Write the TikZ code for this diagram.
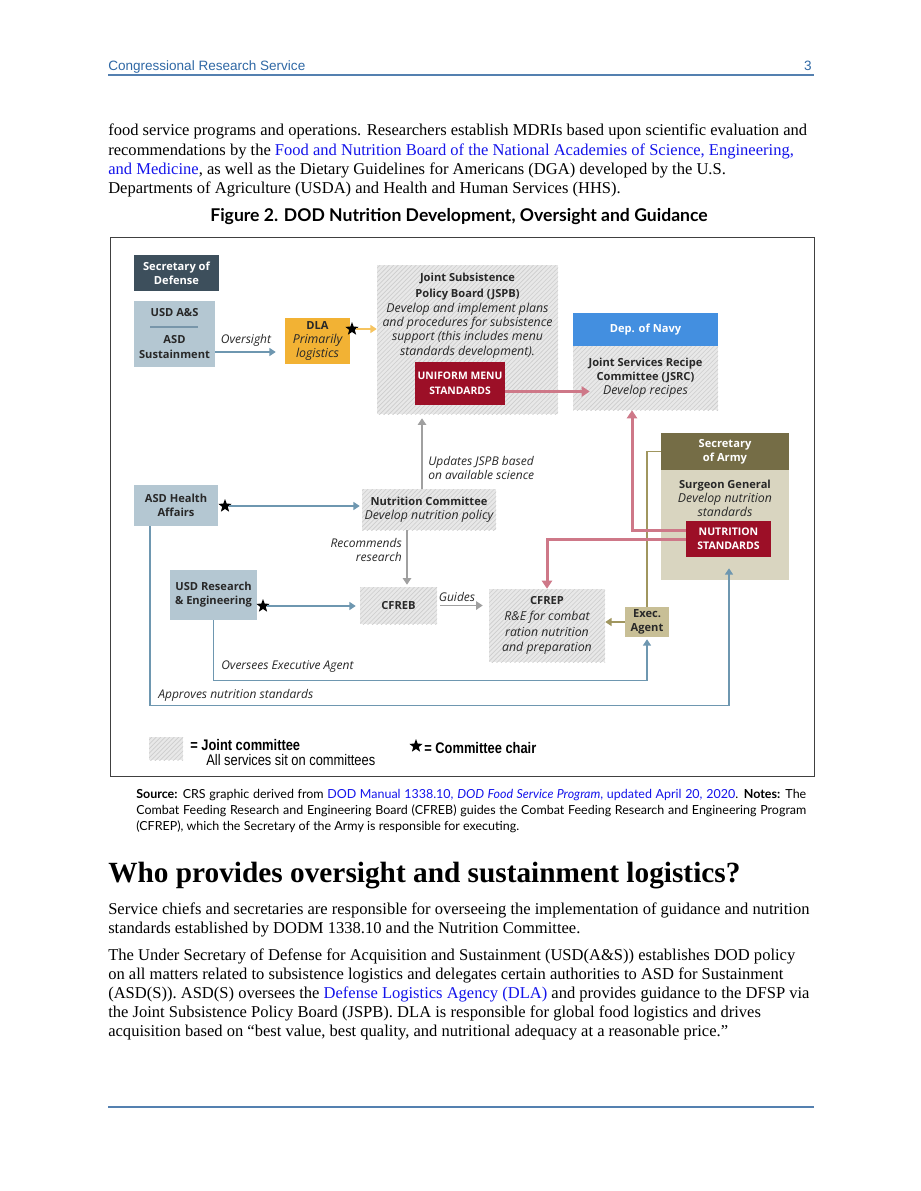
\documentclass[tikz,border=0pt]{standalone}
\usepackage{fontspec}
\setmainfont{Liberation Serif}
\newfontfamily\crsfont{Liberation Sans}
\newfontfamily\narrowfont[FakeStretch=0.84]{Liberation Sans}
\newfontfamily\figfont{Open Sans}
\newfontfamily\notefont{Lato}
\usepackage{tikz}
\usetikzlibrary{calc,positioning,arrows.meta,patterns,shapes.geometric}
\usepackage{xcolor}
\definecolor{myhead}{RGB}{47,104,165}
\definecolor{myrule}{RGB}{84,128,176}
\definecolor{mylink}{RGB}{20,20,235}
\definecolor{myslate}{RGB}{61,79,92}
\definecolor{mypale}{RGB}{180,199,210}
\definecolor{mysep}{RGB}{120,150,170}
\definecolor{myarrblue}{RGB}{110,151,176}
\definecolor{myorange}{RGB}{242,178,52}
\definecolor{myorangeln}{RGB}{246,196,96}
\definecolor{myred}{RGB}{156,15,39}
\definecolor{myredln}{RGB}{206,120,136}
\definecolor{mynavy}{RGB}{67,143,224}
\definecolor{myolive}{RGB}{117,109,70}
\definecolor{myoliveln}{RGB}{160,150,95}
\definecolor{mybeige}{RGB}{217,213,192}
\definecolor{mytan}{RGB}{200,191,150}
\definecolor{myhatchbg}{RGB}{232,232,232}
\definecolor{myhatchln}{RGB}{205,205,205}
\definecolor{mygrayln}{RGB}{160,160,160}
\definecolor{mytext}{RGB}{40,40,40}
\newcommand{\pxu}{0.66522pt}
\newcommand{\subtxt}[1]{{\mdseries\itshape\fontsize{8.2}{9.3}\selectfont #1}}

\begin{document}
\begin{tikzpicture}[x=\pxu, y=-\pxu,
  bodytxt/.style={anchor=base west, inner sep=0pt, font=\fontsize{11}{13}\selectfont},
  crs/.style={inner sep=0pt, font=\crsfont\fontsize{9}{11}\selectfont, text=myhead},
  figtitle/.style={anchor=base, inner sep=0pt, font=\notefont\bfseries\fontsize{11.7}{13}\selectfont},
  note/.style={anchor=base west, inner sep=0pt, font=\notefont\fontsize{8.3}{10}\selectfont},
  box/.style 2 args={minimum width=#1*\pxu, minimum height=#2*\pxu, inner sep=0pt,
    align=center, font=\figfont\bfseries\fontsize{7.4}{9.4}\selectfont},
  boldtxt/.style={inner sep=0pt, align=center, text=mytext,
    font=\figfont\bfseries\fontsize{7.4}{9.4}\selectfont},
  hatch/.style={preaction={fill=myhatchbg}, pattern=north east lines, pattern color=myhatchln},
  chair/.style={star, star points=5, star point ratio=2.4, fill=black, inner sep=0pt,
    minimum size=14*\pxu},
  lbl/.style={inner sep=0pt, text=mytext, font=\figfont\itshape\fontsize{8}{9.3}\selectfont},
  legtxt/.style={inner sep=0pt, anchor=west, font=\narrowfont\fontsize{10.2}{12}\selectfont},
  bluearr/.style={draw=myarrblue, line width=1pt, -{Triangle[width=5.3pt,length=4.2pt]}},
  grayarr/.style={draw=mygrayln, line width=1.2pt, -{Triangle[width=5.6pt,length=4.4pt]}},
  redarr/.style={draw=myredln, line width=2pt, -{Triangle[width=6.8pt,length=5.4pt]}},
  orangearr/.style={draw=myorangeln, line width=1pt, -{Triangle[width=5.3pt,length=4.2pt]}},
  olivearr/.style={draw=myoliveln, line width=1pt, -{Triangle[width=5.3pt,length=4.2pt]}},
  oliveln/.style={draw=myoliveln, line width=0.8pt}]
\fill[white] (0,0) rectangle (920,1191);
\useasboundingbox (0,0) rectangle (920,1191);

% page header
\node[crs, anchor=base west] (hdr) at (108,70) {Congressional Research Service};
\node[crs, anchor=base east] (pgno) at (812,70) {3};
\draw[myrule, line width=0.8pt] (108,75) -- (814,75);

% text above the figure
\node[bodytxt] (p1a) at (108,135) {food service programs and operations. Researchers establish MDRIs based upon scientific evaluation and};
\node[bodytxt] (p1b) at (108,155) {recommendations by the \textcolor{mylink}{Food and Nutrition Board of the National Academies of Science, Engineering,}};
\node[bodytxt] (p1c) at (108,174) {\textcolor{mylink}{and Medicine}, as well as the Dietary Guidelines for Americans (DGA) developed by the U.S.};
\node[bodytxt] (p1d) at (108,193) {Departments of Agriculture (USDA) and Health and Human Services (HHS).};

\node[figtitle] (ftitle) at (459,221) {Figure 2. DOD Nutrition Development, Oversight and Guidance};
\draw[black!75, line width=0.6pt] (110,237) rectangle (814,776);

% left column
\node[box={85}{36}, fill=myslate, text=white] (secdef) at (176.5,273) {Secretary of\\Defense};
\node[box={81}{66}, fill=mypale] (usdas) at (174.5,334) {};
\node[boldtxt] (usdasT) at (174.5,313) {USD A\&S};
\node[boldtxt] (asdsT) at (174.5,347) {ASD\\Sustainment};
\draw[mysep, line width=0.8pt] (150,327) -- (198,327);
\node[box={84}{41}, fill=mypale, text=mytext] (asdha) at (176,505.5) {ASD Health\\Affairs};
\node[box={87}{50}, fill=mypale, text=mytext] (usdre) at (213.5,595) {USD Research\\\& Engineering};

% DLA and JSPB
\node[box={65}{46}, fill=myorange, text=mytext] (dla) at (317.5,341) {DLA\\\subtxt{Primarily}\\\subtxt{logistics}};
\node[box={181}{149}, hatch] (jspb) at (467.5,339.5) {};
\node[boldtxt] (jspbT) at (467.5,315.5) {Joint Subsistence\\[1.5pt]Policy Board (JSPB)\\[0.5pt]\subtxt{Develop and implement plans}\\\subtxt{and procedures for subsistence}\\\subtxt{support (this includes menu}\\\subtxt{standards development).}};
\node[box={90}{43}, fill=myred, text=white, font=\figfont\bfseries\fontsize{6.9}{9.6}\selectfont] (ums) at (460,383.5) {UNIFORM MENU\\STANDARDS};

% Navy
\node[box={145}{33}, fill=mynavy, text=white] (navy) at (645.5,329.5) {Dep. of Navy};
\node[box={145}{64}, hatch, text=mytext] (jsrc) at (645.5,378) {Joint Services Recipe\\Committee (JSRC)\\\subtxt{Develop recipes}};

% Army
\node[box={128}{37}, fill=myolive, text=white] (secarmy) at (725,451.5) {Secretary\\of Army};
\node[box={128}{110}, fill=mybeige] (surg) at (725,525) {};
\node[boldtxt] (surgT) at (725,498.5) {Surgeon General\\\subtxt{Develop nutrition}\\\subtxt{standards}};
\node[box={85}{36}, fill=myred, text=white, font=\figfont\bfseries\fontsize{7}{9.4}\selectfont] (nutstd) at (728.5,539) {NUTRITION\\STANDARDS};
\node[box={44}{30}, fill=mytan, text=mytext] (exec) at (647,622) {Exec.\\Agent};

% committees
\node[box={134}{41}, hatch, text=mytext] (nc) at (429,509.5) {Nutrition Committee\\\subtxt{Develop nutrition policy}};
\node[box={77}{37}, hatch, text=mytext] (cfreb) at (398.5,605.5) {CFREB};
\node[box={116}{73}, hatch, text=mytext] (cfrep) at (547,625.5) {CFREP\\[1.2pt]\subtxt{R\&E for combat}\\[1.2pt]\subtxt{ration nutrition}\\[1.2pt]\subtxt{and preparation}};

% chairs
\node[chair] (dlastar) at (352,329) {};
\node[chair] (hastar) at (225,506) {};
\node[chair] (restar) at (263,606) {};

% connectors
\draw[bluearr, shorten >=9*\pxu] ([yshift=-18*\pxu]usdas.east) -- ([yshift=-18*\pxu]usdas.east -| dla.west);
\node[lbl] (ovlbl) at (246,340) {Oversight};
\draw[orangearr] (dlastar.east) -- (dlastar.east -| jspb.west);
\draw[bluearr, shorten >=2*\pxu] (hastar.east) -- (hastar.east -| nc.west);
\draw[bluearr, shorten >=4*\pxu] (restar.east) -- (restar.east -| cfreb.west);
\draw[grayarr, shorten >=4*\pxu] ([xshift=-7*\pxu]nc.north) -- ([xshift=-7*\pxu]nc.north |- jspb.south);
\node[lbl, anchor=west, align=left] (updlbl) at (428,467.5) {Updates JSPB based\\on available science};
\draw[grayarr, shorten >=2*\pxu] ([xshift=-22*\pxu]nc.south) -- ([xshift=-22*\pxu]nc.south |- cfreb.north);
\node[lbl, anchor=east, align=right] (reclbl) at (402,549.5) {Recommends\\research};
\draw[grayarr, shorten <=3*\pxu, shorten >=6*\pxu] (cfreb.east) -- (cfreb.east -| cfrep.west);
\node[lbl] (guidlbl) at (457,596.5) {Guides};
\draw[olivearr] (exec.west) -- (exec.west -| cfrep.east);
\draw[oliveln] (secarmy.west) -| (exec.north);
% red flows
\draw[redarr, shorten >=-17*\pxu] ([yshift=-8*\pxu]ums.east) -- ([yshift=-8*\pxu]ums.east -| jsrc.west);
\draw[redarr] ([yshift=9*\pxu]nutstd.west) -| ([xshift=-13.5*\pxu]jsrc.south);
\draw[redarr] (nutstd.west) -| (cfrep.north);
% oversight loops
\draw[bluearr, shorten >=2*\pxu] (usdre.south) |- ([yshift=-43*\pxu]exec.south) -- (exec.south);
\node[lbl, anchor=west] (ovealbl) at (221,667) {Oversees Executive Agent};
\draw[bluearr] ([xshift=-26*\pxu]asdha.south) |- ([xshift=4*\pxu, yshift=-125*\pxu]surg.south) -- ([xshift=4*\pxu, yshift=12*\pxu]surg.south);
\node[lbl, anchor=west] (apprlbl) at (158,695) {Approves nutrition standards};

% legend
\node[box={34}{23}, hatch] (lghatch) at (166,748.5) {};
\node[legtxt] (lgjoint) at (190,745) {\bfseries = Joint committee};
\node[legtxt] (lgall) at (206,760) {All services sit on committees};
\node[chair] (lgstar) at (416,746) {};
\node[legtxt] (lgchair) at (424,748) {\bfseries = Committee chair};

% source and notes
\node[note] (src1) at (136,798) {\makebox[445.7pt][s]{\textbf{Source:} CRS graphic derived from \textcolor{mylink}{DOD Manual 1338.10, \textit{DOD Food Service Program}, updated April 20, 2020}. \textbf{Notes:} The}};
\node[note] (src2) at (136,814) {\makebox[445.7pt][s]{Combat Feeding Research and Engineering Board (CFREB) guides the Combat Feeding Research and Engineering Program}};
\node[note] (src3) at (136,830) {(CFREP), which the Secretary of the Army is responsible for executing.};

% section below
\node[bodytxt, font=\bfseries\fontsize{19.5}{23}\selectfont] (sect) at (108,882) {Who provides oversight and sustainment logistics?};
\node[bodytxt] (p2a) at (108,914) {Service chiefs and secretaries are responsible for overseeing the implementation of guidance and nutrition};
\node[bodytxt] (p2b) at (108,933) {standards established by DODM 1338.10 and the Nutrition Committee.};
\node[bodytxt] (p3a) at (108,960) {The Under Secretary of Defense for Acquisition and Sustainment (USD(A\&S)) establishes DOD policy};
\node[bodytxt] (p3b) at (108,979) {on all matters related to subsistence logistics and delegates certain authorities to ASD for Sustainment};
\node[bodytxt] (p3c) at (108,998) {(ASD(S)). ASD(S) oversees the \textcolor{mylink}{Defense Logistics Agency (DLA)} and provides guidance to the DFSP via};
\node[bodytxt] (p3d) at (108,1017) {the Joint Subsistence Policy Board (JSPB). DLA is responsible for global food logistics and drives};
\node[bodytxt] (p3e) at (108,1036) {acquisition based on “best value, best quality, and nutritional adequacy at a reasonable price.”};

% page footer rule
\draw[myrule, line width=0.8pt] (108,1107) -- (814,1107);
\end{tikzpicture}
\end{document}
